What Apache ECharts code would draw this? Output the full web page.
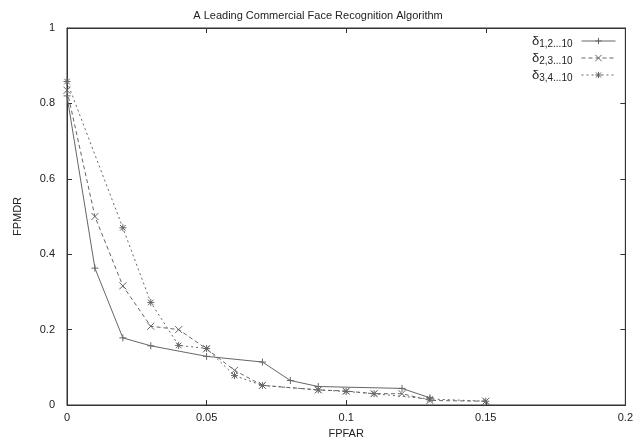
<!DOCTYPE html>
<html><head><meta charset="utf-8">
<script src="https://cdn.jsdelivr.net/npm/echarts@6/dist/echarts.min.js"></script>
<style>html,body{margin:0;padding:0;background:#fff}#c{width:636px;height:447px}</style>
</head><body><div id="c"></div>
<script>
const seriesNames = ['δ1,2...10', 'δ2,3...10', 'δ3,4...10'];
const s1X = [0, 0.01, 0.02, 0.03, 0.05, 0.07, 0.08, 0.09, 0.12, 0.13];
const s1Y = [0.82, 0.363, 0.178, 0.157, 0.129, 0.114, 0.065, 0.049, 0.044, 0.019];
const s2X = [0, 0.01, 0.02, 0.03, 0.04, 0.05, 0.06, 0.07, 0.09, 0.1, 0.11, 0.12, 0.13, 0.15];
const s2Y = [0.835, 0.50, 0.316, 0.209, 0.200, 0.149, 0.092, 0.052, 0.040, 0.037, 0.030, 0.030, 0.012, 0.010];
const s3X = [0, 0.02, 0.03, 0.04, 0.05, 0.06, 0.07, 0.09, 0.1, 0.11, 0.13, 0.15];
const s3Y = [0.858, 0.47, 0.272, 0.158, 0.150, 0.078, 0.052, 0.040, 0.036, 0.030, 0.016, 0.010];
const xTicks = [0, 0.05, 0.1, 0.15, 0.2];
const yTicks = [0, 0.2, 0.4, 0.6, 0.8, 1];

const font = 'Liberation Sans, Helvetica, Arial, sans-serif';
const plus = 'path://M5 0L5 10M0 5L10 5';
const cross = 'path://M0 0L10 10M10 0L0 10';
const star = 'path://M5 0L5 10M0 5L10 5M1 1L9 9M9 1L1 9';
const symbols = [plus, cross, star];
const dashes = ['solid', [4, 3], [2, 3]];
const zip = (xs, ys) => xs.map((x, i) => [x, ys[i]]);
const col = '#666';

const chart = echarts.init(document.getElementById('c'), null, {renderer: 'canvas'});
const axisCommon = {
  min: 0, axisLine: {show: true, onZero: false, lineStyle: {color: '#333', width: 1}},
  axisTick: {show: true, inside: true, length: 5, lineStyle: {color: '#333'}},
  splitLine: {show: false}
};
function mk(i, data) {
  return {
    name: seriesNames[i], type: 'line', data: data, symbol: symbols[i], symbolSize: 7,
    showAllSymbol: true, animation: false,
    lineStyle: {color: col, width: 1, type: dashes[i]},
    itemStyle: {color: 'none', borderColor: col, borderWidth: 1}
  };
}
chart.setOption({
  backgroundColor: '#fff',
  animation: false,
  title: {text: 'A Leading Commercial Face Recognition Algorithm', left: 'center', top: 5,
    textStyle: {fontFamily: font, fontSize: 11, fontWeight: 'normal', color: '#222'}},
  grid: {left: 67, right: 9, top: 28, bottom: 42, show: true, borderColor: '#333', borderWidth: 1, backgroundColor: 'transparent'},
  legend: {
    right: 20, top: 33, orient: 'vertical', align: 'right', itemWidth: 34, itemHeight: 8, itemGap: 1,
    padding: 0,
    selectedMode: false,
    data: seriesNames.map((n, i) => ({
      name: n,
      itemStyle: {color: 'none', borderColor: col, borderWidth: 1},
      lineStyle: {color: col, width: 1, type: dashes[i]}
    })),
    formatter: function (n) { return '{d|δ}{s|' + n.slice(1) + '}'; },
    textStyle: {fontFamily: font, color: '#222', padding: [0, 4, 0, 0],
      rich: {d: {fontSize: 13, fontFamily: font, color: '#222', lineHeight: 13},
             s: {fontSize: 10, fontFamily: font, color: '#222', lineHeight: 13, padding: [6, 0, 0, 0]}}}
  },
  xAxis: [
    Object.assign({}, axisCommon, {type: 'value', max: 0.2, interval: 0.05, position: 'bottom',
      name: 'FPFAR', nameLocation: 'middle', nameGap: 23,
      nameTextStyle: {fontFamily: font, fontSize: 11, color: '#222'},
      axisLabel: {fontFamily: font, fontSize: 11, color: '#222', margin: 7,
        formatter: v => { const t = xTicks.find(k => Math.abs(k - v) < 1e-9); return t === undefined ? '' : String(t); }}}),
    Object.assign({}, axisCommon, {type: 'value', max: 0.2, interval: 0.05, position: 'top', axisLabel: {show: false}})
  ],
  yAxis: [
    Object.assign({}, axisCommon, {type: 'value', max: 1, interval: 0.2, position: 'left',
      name: 'FPMDR', nameLocation: 'middle', nameGap: 44, nameRotate: 90,
      nameTextStyle: {fontFamily: font, fontSize: 11, color: '#222'},
      axisLabel: {fontFamily: font, fontSize: 11, color: '#222', margin: 12,
        formatter: v => { const t = yTicks.find(k => Math.abs(k - v) < 1e-9); return t === undefined ? '' : String(t); }}}),
    Object.assign({}, axisCommon, {type: 'value', max: 1, interval: 0.2, position: 'right', axisLabel: {show: false}})
  ],
  series: [
    mk(0, zip(s1X, s1Y)),
    mk(1, zip(s2X, s2Y)),
    mk(2, zip(s3X, s3Y)),
    {type: 'line', xAxisIndex: 1, yAxisIndex: 1, data: [], silent: true}
  ]
});
</script></body></html>
